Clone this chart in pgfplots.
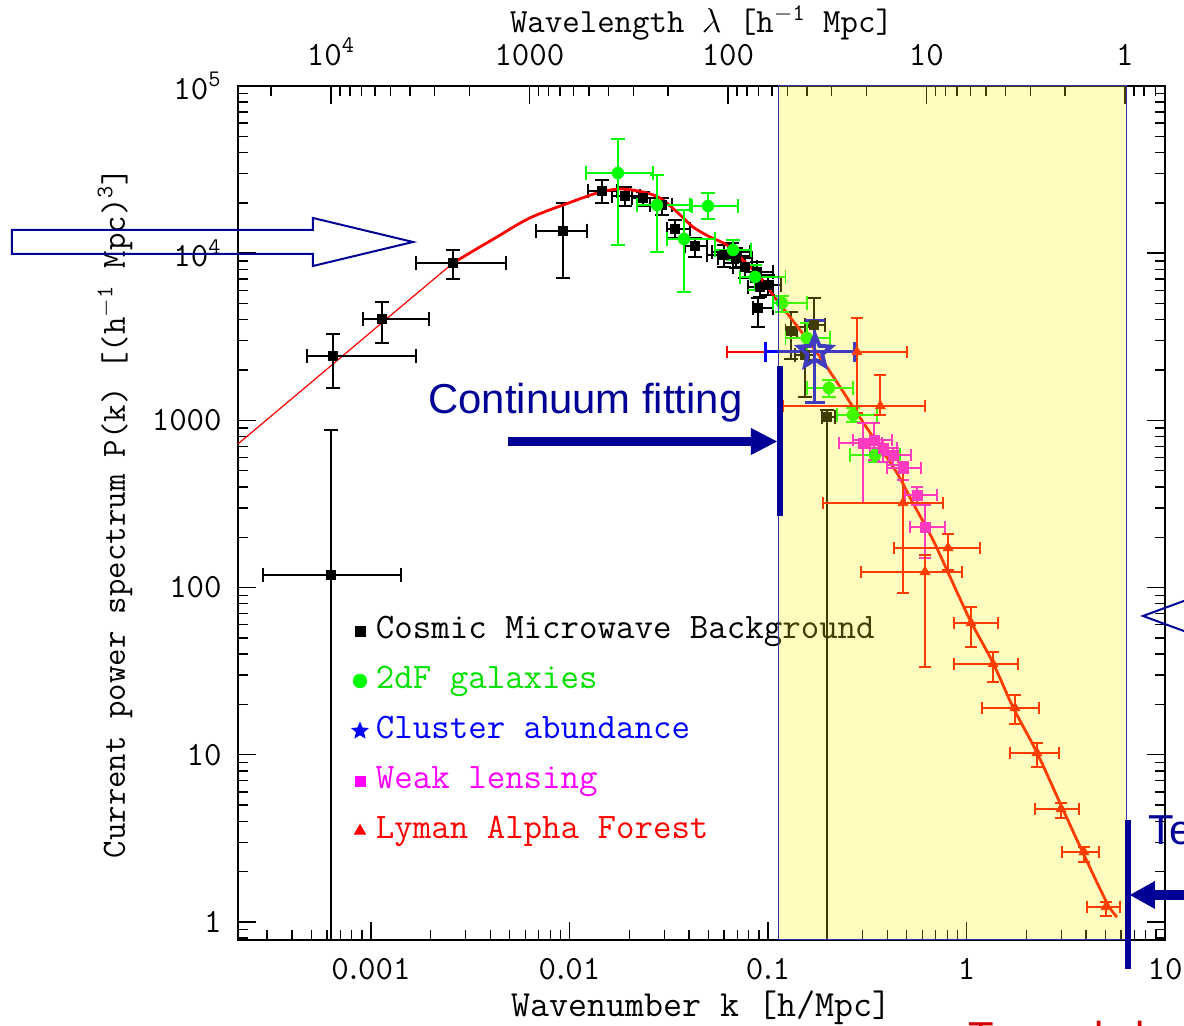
\documentclass[border=0pt]{standalone}
\usepackage{fontspec}
\usepackage{pgfplots}
\usepackage{pgfplotstable}
\pgfplotsset{compat=1.18}
\newfontfamily\arialf{Liberation Sans}
\definecolor{navyA}{RGB}{0,0,150}
\definecolor{galc}{RGB}{0,255,0}
\definecolor{galtxt}{RGB}{0,225,0}
\definecolor{clus}{RGB}{0,0,255}
\definecolor{wlc}{RGB}{255,0,255}
\definecolor{lyac}{RGB}{255,0,0}
\definecolor{boxedge}{RGB}{50,50,170}

\pgfdeclareplotmark{ostar}{%
  \pgfpathmoveto{\pgfpointpolar{90}{\pgfplotmarksize}}%
  \pgfpathlineto{\pgfpointpolar{126}{0.45\pgfplotmarksize}}%
  \pgfpathlineto{\pgfpointpolar{162}{\pgfplotmarksize}}%
  \pgfpathlineto{\pgfpointpolar{198}{0.45\pgfplotmarksize}}%
  \pgfpathlineto{\pgfpointpolar{234}{\pgfplotmarksize}}%
  \pgfpathlineto{\pgfpointpolar{270}{0.45\pgfplotmarksize}}%
  \pgfpathlineto{\pgfpointpolar{306}{\pgfplotmarksize}}%
  \pgfpathlineto{\pgfpointpolar{342}{0.45\pgfplotmarksize}}%
  \pgfpathlineto{\pgfpointpolar{18}{\pgfplotmarksize}}%
  \pgfpathlineto{\pgfpointpolar{54}{0.45\pgfplotmarksize}}%
  \pgfpathclose\pgfusepathqstroke}
\pgfdeclareplotmark{fstar}{%
  \pgfpathmoveto{\pgfpointpolar{90}{\pgfplotmarksize}}%
  \pgfpathlineto{\pgfpointpolar{126}{0.45\pgfplotmarksize}}%
  \pgfpathlineto{\pgfpointpolar{162}{\pgfplotmarksize}}%
  \pgfpathlineto{\pgfpointpolar{198}{0.45\pgfplotmarksize}}%
  \pgfpathlineto{\pgfpointpolar{234}{\pgfplotmarksize}}%
  \pgfpathlineto{\pgfpointpolar{270}{0.45\pgfplotmarksize}}%
  \pgfpathlineto{\pgfpointpolar{306}{\pgfplotmarksize}}%
  \pgfpathlineto{\pgfpointpolar{342}{0.45\pgfplotmarksize}}%
  \pgfpathlineto{\pgfpointpolar{18}{\pgfplotmarksize}}%
  \pgfpathlineto{\pgfpointpolar{54}{0.45\pgfplotmarksize}}%
  \pgfpathclose\pgfusepathqfillstroke}

% model curve
\pgfplotstableread{
k P
2.138e-4 723
6.44e-4 2173
1.122e-3 3793
2.59e-3 8730
}\curveA
\pgfplotstableread{
k P
2.59e-3 8730
3.4e-3 10600
4.31e-3 12500
5.3e-3 14500
6.32e-3 16260
7.7e-3 17900
9.27e-3 19410
0.01377 22910
0.01795 24210
0.02344 23230
0.02858 21380
0.03483 17620
0.04188 14350
0.05105 12500
0.06209 11190
0.07482 9100
0.0912 7211
0.1059 5623
0.1449 3475
0.1828 2393
0.2307 1585
0.2805 1107
0.3540 733
0.4467 484
0.5370 321
0.6776 193
0.8260 116
1.042 64.0
1.361 35.4
1.714 19.3
2.265 10.3
2.958 5.15
3.864 2.59
5.105 1.30
5.728 1.07
}\curveB

% Cosmic Microwave Background
\pgfplotstableread{
k P klo khi Plo Phi
6.29e-4 119 2.86e-4 1.42e-3 0.5 876
6.44e-4 2427 4.76e-4 1.69e-3 1562 3289
1.135e-3 4038 9.12e-4 1.96e-3 2904 5105
2.59e-3 8730 1.69e-3 4.79e-3 7015 10450
9.27e-3 13580 6.78e-3 0.01225 7112 19950
0.01459 23550 0.0124 0.01734 19950 27400
0.01905 21980 0.01637 0.02265 19160 24890
0.02344 21380 0.02065 0.0276 19230 23230
0.02923 19410 0.02546 0.0328 16910 21380
0.03404 13960 0.03097 0.04045 12330 15810
0.04285 11040 0.0382 0.0493 9490 12330
0.05998 9750 0.0493 0.0731 8270 11190
0.0659 10170 0.0522 0.0811 8730 11510
0.069 9360 0.056 0.083 8150 10740
0.0766 8270 0.0667 0.0881 7112 9620
0.0881 7720 0.0766 0.106 6730 8850
0.0912 6280 0.0793 0.106 5470 7211
0.1 6450 0.0881 0.1161 5623 7410
0.0891 4700 0.0839 0.106 3620 5395
0.1306 3427 0.1224 0.14 2328 4449
0.1535 2460 0.1368 0.1725 1380 3620
0.1706 3720 0.1535 0.1936 2296 5395
0.198 1048 0.187 0.218 0.5 1154
}\cmbtab

% 2dF galaxies
\pgfplotstableread{
k P klo khi Plo Phi
0.01754 30180 0.0121 0.02636 11190 48190
0.0276 19410 0.02188 0.04045 10170 29370
0.04989 19150 0.0414 0.0707 16030 22910
0.03776 12160 0.03097 0.05408 5865 18130
0.0667 10450 0.054 0.082 9100 11990
0.0861 7211 0.0723 0.1224 6025 8500
0.1178 5035 0.106 0.1572 4449 5546
0.157 3111 0.1224 0.205 2566 3825
0.2028 1563 0.1573 0.268 1380 1745
0.268 1077 0.2228 0.354 978 1186
0.346 621 0.259 0.4624 564 684
}\galtab

% Cluster abundance
\pgfplotstableread{
k P klo khi Plo Phi
0.1725 2566 0.0966 0.274 1288 3985
}\clustab

% Weak lensing
\pgfplotstableread{
k P klo khi Plo Phi
0.3013 732 0.228 0.375 321 965
0.342 763 0.268 0.4217 580 965
0.3795 684 0.3266 0.4467 564 763
0.4266 621 0.354 0.525 541 684
0.4786 519 0.398 0.590 440 564
0.5636 358 0.4898 0.7096 312 400
0.618 230 0.519 0.780 150 312
}\wltab

% Lyman alpha forest
\pgfplotstableread{
k P klo khi Plo Phi
0.2805 2566 0.0621 0.501 1107 4093
0.368 1219 0.1192 0.618 1077 1870
0.4786 321 0.189 0.762 92.8 484
0.8072 172.6 0.4314 1.17 127 209
0.618 124 0.2937 0.949 33.5 157
1.054 61.4 0.865 1.442 44.2 76.5
1.361 34.9 0.865 1.816 27.2 41.2
1.754 19.05 1.197 2.317 15.3 22.8
2.265 10.25 1.655 2.924 8.45 11.8
2.992 4.74 2.213 3.69 4.19 5.15
3.908 2.62 3.027 4.654 2.28 2.81
5.047 1.23 4.045 5.93 1.086 1.317
}\lyatab

\pgfplotsset{
  table/errtab/.style={
    x error plus expr=\thisrow{khi}-\thisrow{k},
    x error minus expr=\thisrow{k}-\thisrow{klo},
    y error plus expr=\thisrow{Phi}-\thisrow{P},
    y error minus expr=\thisrow{P}-\thisrow{Plo}},
  ebars/.style n args={3}{
    error bars/.cd, x dir=both, y dir=both, x explicit, y explicit,
    error bar style={line width=#2, #1},
    error mark options={rotate=90, line width=#2, mark size=#3, #1}},
}

\begin{document}
\begin{tikzpicture}
\useasboundingbox (0,0) rectangle (592bp,513bp);
\clip (0,0) rectangle (592bp,513bp);

\begin{axis}[
  at={(119bp,43bp)}, anchor=south west, scale only axis,
  width=463.5bp, height=427bp,
  xmode=log, ymode=log,
  xmin=2.138e-4, xmax=10, ymin=0.7803, ymax=1e5,
  xtick={0.001,0.01,0.1,1,10},
  xticklabels={0\kern-.12em.\kern-.12em001,0\kern-.12em.\kern-.12em01,0\kern-.12em.\kern-.12em1,1,10},
  minor xtick={3e-4,4e-4,5e-4,6e-4,7e-4,8e-4,9e-4,2e-3,3e-3,4e-3,5e-3,6e-3,7e-3,8e-3,9e-3,0.02,0.03,0.04,0.05,0.06,0.07,0.08,0.09,0.2,0.3,0.4,0.5,0.6,0.7,0.8,0.9,2,3,4,5,6,7,8,9},
  ytick={1,10,100,1000,10000,100000},
  yticklabels={1,10,100,1000,10\textsuperscript{4},10\textsuperscript{5}},
  minor ytick={0.8,0.9,2,3,4,5,6,7,8,9,20,30,40,50,60,70,80,90,200,300,400,500,600,700,800,900,2000,3000,4000,5000,6000,7000,8000,9000,20000,30000,40000,50000,60000,70000,80000,90000},
  xtick pos=left, ytick pos=both, tick align=inside,
  major tick length=9bp, minor tick length=5bp,
  every tick/.style={black, line width=0.7bp},
  axis line style={line width=1bp},
  tick label style={font=\ttfamily\fontsize{17}{17}\selectfont},
  yticklabel style={anchor=east, inner sep=0pt, xshift=-8bp},
  xticklabel style={anchor=north, inner sep=0pt, yshift=-9bp},
  xlabel={Wavenumber k [h/Mpc]},
  ylabel={Current power spectrum P(k) [(h\textsuperscript{$-$1} Mpc)\textsuperscript{3}]},
  xlabel style={font=\ttfamily\fontsize{18.5}{18.5}\selectfont, inner sep=0pt, at={(axis description cs:0.5,-0.0796)}, anchor=center},
  ylabel style={font=\ttfamily\fontsize{17}{17}\selectfont, inner sep=0pt, at={(axis description cs:-0.1327,0.5)}, anchor=center},
  legend style={at={(axis description cs:0.1208,0.3806)}, anchor=north west,
    draw=none, fill=none, inner sep=0pt, outer sep=0pt, row sep=9bp, column sep=0bp,
    font=\ttfamily\fontsize{18}{18}\selectfont,
    nodes={inner sep=0pt, text height=12bp, text depth=4bp}},
  legend cell align=left,
  legend image code/.code={\path[draw=none, fill=none] (0bp,-4bp) rectangle (13bp,4bp); \draw[#1] plot coordinates {(5bp,0bp)};},
]
% model curve
\addplot[forget plot, color=red, line width=0.6bp] table[x=k,y=P] {\curveA};
% CMB
\addplot[forget plot, only marks, mark=square*, mark size=2.4bp, black, ebars={black}{0.9bp}{3.5bp}] table[x=k,y=P,errtab] {\cmbtab};
\addplot[forget plot, color=red, line width=1.4bp, smooth, tension=0.5] table[x=k,y=P] {\curveB};
% 2dF
\addplot[forget plot, only marks, mark=*, mark size=2.9bp, galc, ebars={galc}{0.9bp}{3.5bp}] table[x=k,y=P,errtab] {\galtab};
% Weak lensing
\addplot[forget plot, only marks, mark=square*, mark size=2.5bp, wlc, ebars={wlc}{0.9bp}{3bp}] table[x=k,y=P,errtab] {\wltab};
% Lyman alpha
\addplot[forget plot, only marks, mark=triangle*, mark size=2.8bp, lyac, ebars={lyac}{0.9bp}{3bp}] table[x=k,y=P,errtab] {\lyatab};
% Cluster abundance
\addplot[forget plot, only marks, mark=ostar, mark size=8.5bp, clus, mark options={line width=2bp}, ebars={clus}{1.5bp}{5bp}] table[x=k,y=P,errtab] {\clustab};

\addlegendimage{mark=square*, mark size=2.5bp, black}
\addlegendentry{Cosmic Microwave Background}
\addlegendimage{mark=*, mark size=3.4bp, galc}
\addlegendentry{\textcolor{galtxt}{2dF galaxies}}
\addlegendimage{mark=fstar, mark size=4.2bp, clus}
\addlegendentry{\textcolor{clus}{Cluster abundance}}
\addlegendimage{mark=square*, mark size=2.5bp, wlc}
\addlegendentry{\textcolor{wlc}{Weak lensing}}
\addlegendimage{mark=triangle*, mark size=3.2bp, lyac}
\addlegendentry{\textcolor{lyac}{Lyman Alpha Forest}}
\end{axis}

% top wavelength axis
\begin{axis}[
  at={(119bp,43bp)}, anchor=south west, scale only axis,
  width=463.5bp, height=427bp,
  xmode=log, x dir=reverse,
  xmin=0.6283, xmax=29388, ymin=0, ymax=1,
  axis x line*=top, hide y axis,
  xtick={1,10,100,1000,10000},
  xticklabels={1,10,100,1000,10\textsuperscript{4}},
  minor xtick={0.7,0.8,0.9,2,3,4,5,6,7,8,9,20,30,40,50,60,70,80,90,200,300,400,500,600,700,800,900,2000,3000,4000,5000,6000,7000,8000,9000,20000},
  tick align=inside,
  major tick length=9bp, minor tick length=5bp,
  every tick/.style={black, line width=0.7bp},
  axis line style={line width=1bp},
  tick label style={font=\ttfamily\fontsize{17}{17}\selectfont},
  xticklabel style={anchor=south, inner sep=0pt, yshift=10bp},
  xlabel={Wavelength $\lambda$ [h\textsuperscript{$-$1} Mpc]},
  xlabel style={font=\ttfamily\fontsize{17}{17}\selectfont, inner sep=0pt, at={(axis description cs:0.5,1.0735)}, anchor=center},
]
\end{axis}

% overlays in pixel coordinates
\begin{scope}[x=0.5bp, y=-0.5bp, yshift=513bp]
  \fill[yellow, fill opacity=0.25] (779,86) rectangle (1127,940);
  \draw[boxedge, line width=0.5bp] (779,86) rectangle (1127,940);
  % left hollow arrow
  \draw[navyA, line width=1bp, line join=miter] (12,230) -- (313,230) -- (313,218) -- (413,242) -- (313,266) -- (313,254) -- (12,254) -- cycle;
  % right hollow arrow head
  \draw[navyA, line width=1bp, line join=miter] (1192,598) -- (1143,616) -- (1192,634);
  % continuum fitting arrow
  \fill[navyA] (508,437) rectangle (753,446);
  \fill[navyA] (751,428) -- (777,441.5) -- (751,455) -- cycle;
  \fill[navyA] (777,366) rectangle (783,516);
  % right marker
  \fill[navyA] (1125,820) rectangle (1131,969);
  \fill[navyA] (1130,895) -- (1155,881) -- (1155,909) -- cycle;
  \fill[navyA] (1154,890) rectangle (1195,900);
  \node[anchor=base west, inner sep=0pt, text=navyA, font=\arialf\fontsize{21}{21}\selectfont] at (428,414) {Continuum fitting};
  \node[anchor=base west, inner sep=0pt, text=navyA, font=\arialf\fontsize{21}{21}\selectfont] at (1148,845) {Temperature};
  \node[anchor=base west, inner sep=0pt, text={rgb,255:red,210;green,0;blue,0}, font=\arialf\fontsize{21}{21}\selectfont] at (968,1052) {Towards k};
\end{scope}
\end{tikzpicture}
\end{document}
